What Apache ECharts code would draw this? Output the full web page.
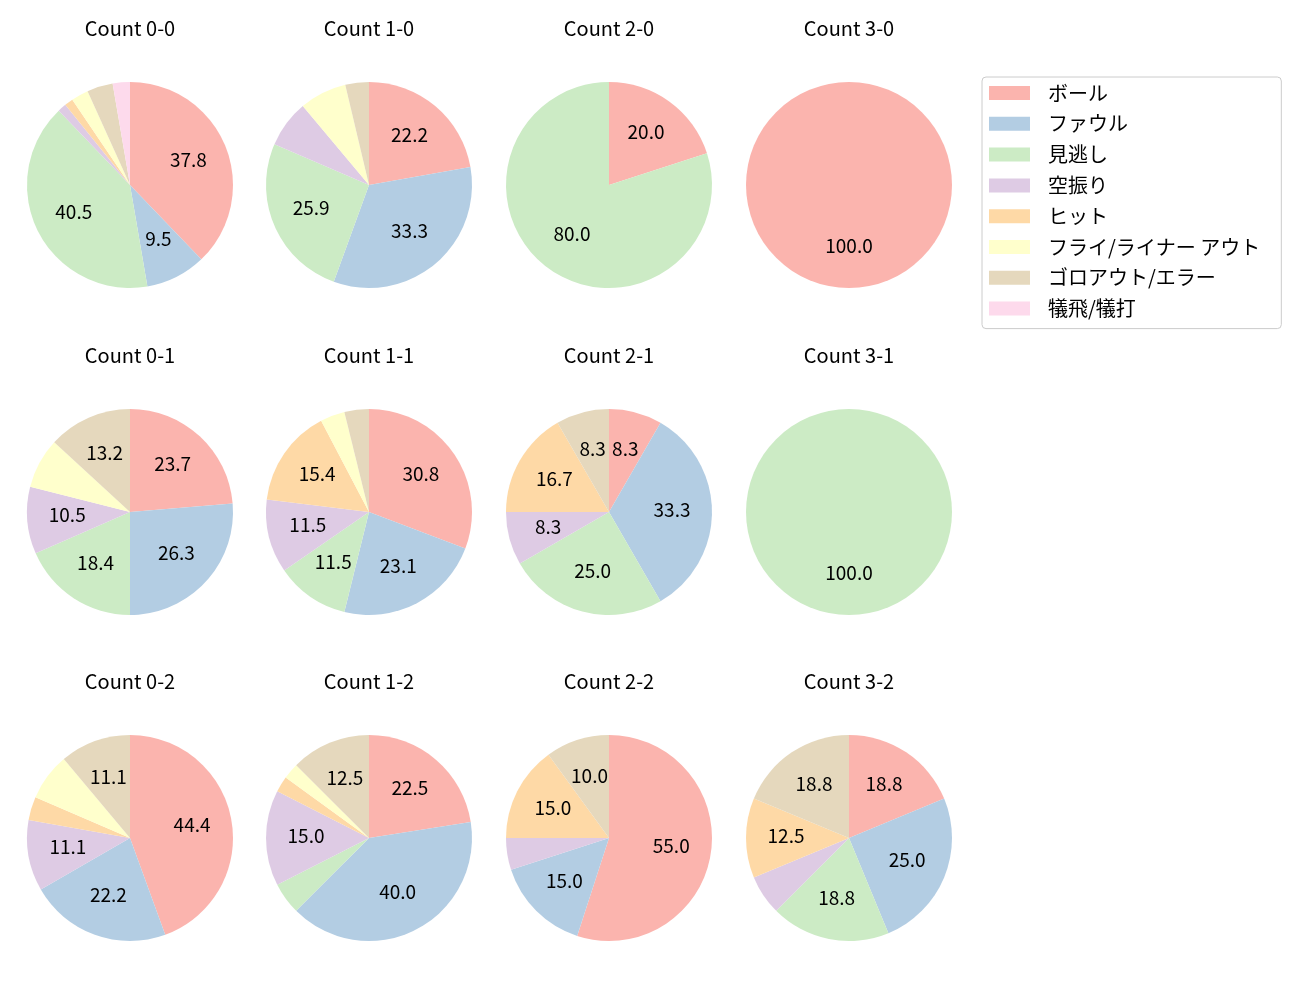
<!DOCTYPE html>
<html>
<head>
<meta charset="utf-8">
<script src="https://cdn.jsdelivr.net/npm/echarts@6/dist/echarts.min.js"></script>
<style>
  html, body { margin: 0; padding: 0; background: #fff; }
  #chart { width: 1300px; height: 1000px; }
</style>
</head>
<body>
<div id="chart"></div>
<script>
// outcome categories (legend order)
const categories = ["ボール", "ファウル", "見逃し", "空振り", "ヒット", "フライ/ライナー アウト", "ゴロアウト/エラー", "犠飛/犠打"];
const colors = ["#fbb4ae", "#b3cde3", "#ccebc5", "#decbe4", "#fed9a6", "#ffffcc", "#e5d8bd", "#fddaec"];

// pitch counts per ball-strike count, in category order
const count00 = [28, 7, 30, 1, 1, 2, 3, 2];
const count10 = [6, 9, 7, 2, 0, 2, 1, 0];
const count20 = [1, 0, 4, 0, 0, 0, 0, 0];
const count30 = [1, 0, 0, 0, 0, 0, 0, 0];
const count01 = [9, 10, 7, 4, 0, 3, 5, 0];
const count11 = [8, 6, 3, 3, 4, 1, 1, 0];
const count21 = [1, 4, 3, 1, 2, 0, 1, 0];
const count31 = [0, 0, 1, 0, 0, 0, 0, 0];
const count02 = [12, 6, 0, 3, 1, 2, 3, 0];
const count12 = [9, 16, 2, 6, 1, 1, 5, 0];
const count22 = [11, 3, 0, 1, 3, 0, 2, 0];
const count32 = [3, 4, 3, 1, 2, 0, 3, 0];

const panels = [
    { title: "Count 0-0", data: count00, row: 0, col: 0 },
    { title: "Count 1-0", data: count10, row: 0, col: 1 },
    { title: "Count 2-0", data: count20, row: 0, col: 2 },
    { title: "Count 3-0", data: count30, row: 0, col: 3 },
    { title: "Count 0-1", data: count01, row: 1, col: 0 },
    { title: "Count 1-1", data: count11, row: 1, col: 1 },
    { title: "Count 2-1", data: count21, row: 1, col: 2 },
    { title: "Count 3-1", data: count31, row: 1, col: 3 },
    { title: "Count 0-2", data: count02, row: 2, col: 0 },
    { title: "Count 1-2", data: count12, row: 2, col: 1 },
    { title: "Count 2-2", data: count22, row: 2, col: 2 },
    { title: "Count 3-2", data: count32, row: 2, col: 3 },
];

const colX = [130, 369, 609, 849];
const rowY = [185, 512, 838];
const R = 103;
const font = "'Noto Sans CJK JP', 'Noto Sans', sans-serif";

const chart = echarts.init(document.getElementById("chart"), null, { renderer: "canvas" });

const titles = panels.map((p) => ({
    text: p.title,
    left: colX[p.col],
    top: rowY[p.row] - 167,
    textAlign: "center",
    padding: 0,
    textStyle: { fontFamily: font, fontSize: 20, fontWeight: "normal", color: "#000" },
}));

const series = [];
panels.forEach((p) => {
    const center = [colX[p.col], rowY[p.row]];
    const total = p.data.reduce((a, b) => a + b, 0);
    // wedges
    series.push({
        type: "pie",
        center: center,
        radius: [0, R],
        startAngle: 90,
        clockwise: true,
        silent: true,
        animation: false,
        label: { show: false },
        labelLine: { show: false },
        itemStyle: { borderWidth: 0 },
        data: p.data.map((v, i) => ({ name: categories[i], value: v, itemStyle: { color: colors[i] } })),
    });
    // transparent ring so inside labels sit near 0.6 R
    series.push({
        type: "pie",
        center: center,
        radius: [17, R],
        startAngle: 90,
        clockwise: true,
        silent: true,
        animation: false,
        itemStyle: { color: "rgba(0,0,0,0)", borderWidth: 0 },
        labelLine: { show: false },
        label: {
            show: true,
            position: "inside",
            fontFamily: font,
            fontSize: 19,
            color: "#000",
            offset: [0, -2],
            formatter: (params) => {
                const pct = (params.value / total) * 100;
                return pct >= 8 ? pct.toFixed(1) : "";
            },
        },
        data: p.data.map((v, i) => ({ name: categories[i], value: v })),
    });
});

const option = {
    backgroundColor: "#fff",
    animation: false,
    title: titles,
    legend: {
        orient: "vertical",
        left: 982,
        top: 77,
        padding: [6, 21, 10, 7],
        borderColor: "#cccccc",
        borderWidth: 1,
        borderRadius: 4,
        itemWidth: 41,
        itemHeight: 14,
        itemGap: 10.8,
        icon: "rect",
        selectedMode: false,
        textStyle: { fontFamily: font, fontSize: 20, color: "#000", padding: [0, 0, 0, 13], lineHeight: 17 },
        data: categories.map((c, i) => ({ name: c, itemStyle: { color: colors[i] } })),
    },
    series: series,
};

chart.setOption(option);
</script>
</body>
</html>
